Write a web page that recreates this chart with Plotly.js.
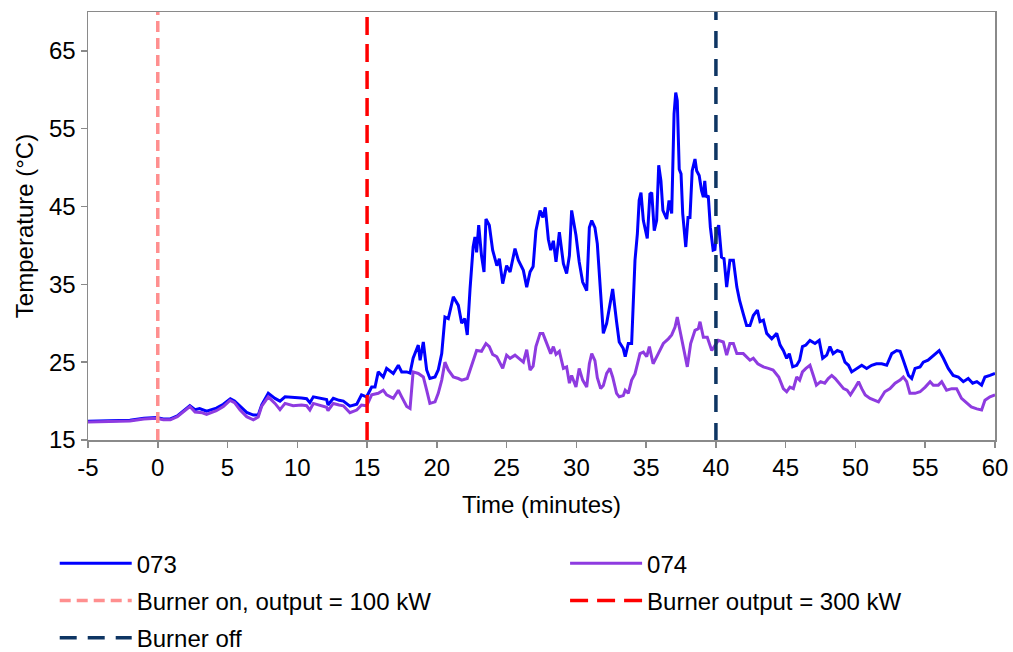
<!DOCTYPE html>
<html>
<head>
<meta charset="utf-8">
<script src="https://cdn.plot.ly/plotly-3.0.1.min.js"></script>
<style>html,body{margin:0;padding:0;background:#fff;}#chart{width:1013px;height:652px;}</style>
</head>
<body>
<div id="chart"></div>
<script>
// ---- data (minutes, °C) ----
const t073 = [-5.0,-4.0,-3.0,-2.0,-1.0,-0.1,0.4,0.9,1.4,1.9,2.3,2.67,3.0,3.5,4.2,4.7,5.2,5.5,5.9,6.37,6.85,7.2,7.45,7.92,8.4,8.76,9.12,9.7,10.3,10.67,10.9,11.15,11.6,12.1,12.2,12.58,13.0,13.3,13.77,14.26,14.6,14.97,15.33,15.57,15.8,16.16,16.4,16.88,17.24,17.48,17.84,18.08,18.3,18.67,18.8,19.03,19.27,19.5,19.87,20.1,20.35,20.58,20.82,21.18,21.54,21.78,22.0,22.18,22.38,22.6,22.73,22.85,23.0,23.2,23.38,23.52,23.76,24.0,24.3,24.48,24.72,25.0,25.25,25.6,25.84,26.2,26.44,26.68,26.9,27.1,27.4,27.6,27.77,27.99,28.16,28.35,28.54,28.78,29.07,29.3,29.5,29.66,29.97,30.2,30.45,30.74,30.93,31.1,31.33,31.5,31.74,31.93,32.17,32.4,32.6,32.88,33.07,33.36,33.5,33.72,33.96,34.2,34.37,34.5,34.63,34.8,35.08,35.27,35.4,35.58,35.75,35.9,36.06,36.2,36.47,36.64,36.83,37.0,37.12,37.23,37.37,37.5,37.62,37.84,38.0,38.14,38.3,38.5,38.62,38.8,38.97,39.1,39.2,39.3,39.45,39.6,39.8,39.93,40.05,40.2,40.4,40.58,40.77,41.0,41.25,41.5,41.7,41.96,42.2,42.44,42.68,42.97,43.16,43.4,43.64,44.0,44.36,44.6,44.83,45.07,45.26,45.5,45.79,46.0,46.2,46.45,46.74,47.1,47.4,47.65,47.94,48.17,48.4,48.7,49.0,49.25,49.5,49.73,50.1,50.45,50.8,51.16,51.5,51.88,52.24,52.6,52.95,53.2,53.43,53.8,54.03,54.27,54.63,54.86,55.2,55.58,56.0,56.3,56.65,57.0,57.37,57.73,58.08,58.4,58.7,59.04,59.28,59.64,60.0];
const v073 = [17.4,17.45,17.5,17.55,17.8,17.9,17.7,17.7,18.1,18.8,19.4,18.9,19.05,18.7,19.1,19.6,20.3,20.0,19.3,18.55,18.2,18.2,19.5,21.0,20.35,20.0,20.55,20.5,20.4,20.3,19.8,20.55,20.4,20.2,19.5,20.35,20.1,20.0,19.35,19.6,20.8,20.55,21.8,21.8,23.75,23.1,24.2,23.55,24.6,23.75,23.75,23.6,25.5,27.2,25.25,27.6,24.0,22.9,23.1,24.0,26.1,30.8,30.6,33.4,32.3,30.0,30.6,28.5,34.45,39.8,41.1,39.1,42.6,38.7,36.6,43.4,42.6,39.4,37.4,38.3,35.1,37.4,36.6,39.6,38.1,36.8,34.65,36.6,37.3,41.9,44.5,43.6,44.9,40.8,39.4,40.6,37.9,41.7,37.65,36.4,38.7,44.5,41.3,37.9,35.3,34.2,42.3,43.2,42.3,40.2,33.8,28.7,30.0,32.1,34.4,30.2,27.6,26.75,25.7,27.4,27.4,38.1,41.5,45.8,46.8,43.2,40.9,46.6,46.8,41.9,43.2,50.3,48.3,44.5,43.4,45.8,44.1,56.9,59.65,58.6,49.8,49.2,44.1,39.8,43.6,43.6,49.6,51.1,49.6,49.0,47.05,46.2,48.3,46.2,46.4,42.35,39.4,39.5,41.9,42.6,38.5,38.3,34.65,38.1,38.1,34.65,32.9,31.2,29.7,29.7,31.0,31.7,30.2,30.4,28.7,28.0,28.7,27.2,26.5,25.5,26.1,24.4,24.6,25.25,27.0,27.2,27.8,27.4,27.8,25.5,25.9,27.0,26.1,26.5,26.3,25.0,24.6,23.75,24.2,24.6,24.2,24.6,24.8,24.8,24.6,26.1,26.5,26.4,25.25,23.3,22.9,24.2,24.4,25.0,25.25,25.9,26.5,25.5,24.2,23.3,23.1,22.5,22.9,22.3,22.5,22.05,23.1,23.3,23.55];

const t074 = [-5.0,-4.0,-3.0,-2.0,-1.0,-0.1,0.4,0.9,1.4,1.9,2.3,2.67,3.2,3.5,4.2,4.7,5.18,5.5,5.9,6.37,6.85,7.2,7.45,7.92,8.4,8.76,9.12,9.7,10.3,10.67,10.9,11.15,11.6,12.1,12.2,12.58,13.0,13.3,13.77,14.26,14.6,14.97,15.33,15.8,16.16,16.4,16.88,17.24,17.48,17.84,18.08,18.3,18.67,19.03,19.27,19.5,19.87,20.1,20.35,20.58,20.82,21.18,21.54,21.78,22.18,22.38,22.6,22.85,23.2,23.52,23.76,24.0,24.3,24.72,25.0,25.25,25.6,25.84,26.2,26.44,26.68,26.9,27.1,27.4,27.6,27.77,27.99,28.16,28.35,28.54,28.78,29.07,29.3,29.5,29.66,29.97,30.2,30.45,30.74,30.93,31.1,31.33,31.5,31.74,31.93,32.17,32.4,32.6,32.88,33.07,33.36,33.5,33.72,33.96,34.2,34.56,34.8,35.04,35.23,35.5,35.87,36.23,36.59,36.83,37.07,37.23,37.42,37.66,37.95,38.19,38.5,38.74,38.86,39.1,39.38,39.7,39.93,40.17,40.53,40.77,41.0,41.25,41.5,41.96,42.44,42.68,43.0,43.4,43.76,44.1,44.5,44.83,45.07,45.3,45.55,45.79,46.0,46.2,46.45,46.74,46.98,47.2,47.5,47.8,48.05,48.3,48.55,48.8,49.15,49.4,49.64,50.0,50.22,50.45,50.7,51.05,51.4,51.65,51.88,52.1,52.48,52.84,53.2,53.43,53.67,53.9,54.27,54.63,55.0,55.35,55.58,55.94,56.18,56.53,56.9,57.25,57.6,57.97,58.3,58.7,59.04,59.28,59.64,60.0];
const v074 = [17.3,17.35,17.4,17.45,17.7,17.8,17.6,17.6,18.0,18.7,19.3,18.6,18.5,18.3,18.76,19.3,20.1,19.8,18.85,18.0,17.6,17.95,19.35,20.55,19.7,18.9,19.7,19.4,19.5,19.4,18.85,19.7,19.5,19.2,18.76,19.7,19.5,19.4,18.5,18.85,19.5,19.4,20.8,21.0,21.4,20.8,20.35,21.4,20.55,19.3,19.05,23.75,23.55,23.1,21.4,19.7,19.9,21.0,22.7,25.0,24.0,23.1,22.9,22.7,22.9,24.0,25.0,26.5,26.4,27.4,27.0,26.0,25.7,24.2,25.9,25.5,25.9,25.5,25.0,26.6,24.0,24.5,27.0,28.7,28.7,27.9,27.0,26.1,27.0,26.0,26.4,24.2,24.4,22.3,23.3,21.8,24.2,22.7,21.8,24.8,26.1,25.2,23.0,21.6,22.0,23.55,24.2,23.1,21.0,20.55,20.7,21.4,21.0,22.7,23.5,26.1,26.3,25.7,27.0,24.8,26.1,27.4,28.0,28.5,29.5,30.8,29.1,27.0,24.4,27.4,29.1,29.3,30.2,28.2,28.2,26.5,27.2,27.8,27.6,25.9,27.4,27.4,26.1,26.1,25.25,25.5,24.8,24.4,24.2,24.0,23.1,21.6,21.2,21.8,21.6,23.1,22.7,23.75,24.2,24.6,23.3,22.05,22.5,22.3,22.9,23.3,22.9,22.3,21.6,21.4,20.8,21.8,22.5,21.6,20.8,20.35,20.1,19.9,20.55,21.2,21.6,22.3,22.7,23.1,22.5,21.0,21.0,21.2,21.8,22.5,22.05,22.05,22.5,21.4,21.6,21.6,20.35,19.7,19.25,19.0,18.85,20.1,20.55,20.8];

// event markers: time (minutes) of each burner change
const eventNames = ["Burner on, output = 100 kW", "Burner output = 300 kW", "Burner off"];
const eventTimes = [0, 15, 40];
const yRange = [15, 70];
const xTicks = [-5, 0, 5, 10, 15, 20, 25, 30, 35, 40, 45, 50, 55, 60];
const xTickLabels = ["-5", "0", "5", "10", "15", "20", "25", "30", "35", "40", "45", "50", "55", "60"];
const yTicks = [15, 25, 35, 45, 55, 65];

const FONT = "Liberation Sans, Arial, sans-serif";
const FS = 24;
const eventStyles = [
  {color: "#FF8F8F", dash: "11px,6px", width: 3.5},
  {color: "#FF0000", dash: "18px,9px", width: 3.5},
  {color: "#0E3563", dash: "17px,11px", width: 3.5}
];

const traces = [
  {x: t073, y: v073, type: "scatter", mode: "lines", name: "073",
   line: {color: "#0000FF", width: 3}, legend: "legend"},
  {x: t074, y: v074, type: "scatter", mode: "lines", name: "074",
   line: {color: "#8E3BE0", width: 3}, legend: "legend2"}
];
eventTimes.forEach((et, i) => {
  traces.push({
    x: [et, et], y: yRange, type: "scatter", mode: "lines", name: eventNames[i],
    line: {color: eventStyles[i].color, dash: eventStyles[i].dash, width: eventStyles[i].width},
    legend: (i === 1) ? "legend2" : "legend"
  });
});
traces.forEach((tr, i) => { tr.legendgroup = "g" + i; });

const axisCommon = {
  showline: true, mirror: true, linecolor: "#8A8A8A", linewidth: 1.5,
  ticks: "outside", ticklen: 6, tickwidth: 1.5, tickcolor: "#8A8A8A",
  showgrid: false, zeroline: false, automargin: true,
  tickfont: {family: FONT, size: FS, color: "#000"}
};

const legendCommon = {
  font: {family: FONT, size: FS, color: "#000"},
  bgcolor: "rgba(0,0,0,0)", borderwidth: 0,
  orientation: "v", itemwidth: 72, tracegroupgap: 3,
  traceorder: "grouped", yanchor: "top", xanchor: "left",
  itemclick: false, itemdoubleclick: false
};

const layout = {
  width: 1013, height: 652,
  margin: {l: 88, r: 18, t: 12, b: 212, autoexpand: false},
  paper_bgcolor: "#fff", plot_bgcolor: "#fff",
  showlegend: true,
  xaxis: Object.assign({}, axisCommon, {
    range: [-5, 60], tickvals: xTicks, ticktext: xTickLabels,
    title: {text: "Time (minutes)", font: {family: FONT, size: FS, color: "#000"}, standoff: 16}
  }),
  yaxis: Object.assign({}, axisCommon, {
    range: yRange, tickvals: yTicks,
    title: {text: "Temperature (°C)", font: {family: FONT, size: FS, color: "#000"}, standoff: 8}
  }),
  legend: Object.assign({}, legendCommon, {x: -0.0367, y: -0.2364}),
  legend2: Object.assign({}, legendCommon, {x: 0.526, y: -0.2364})
};

Plotly.newPlot("chart", traces, layout, {staticPlot: true, displayModeBar: false});
</script>
</body>
</html>
